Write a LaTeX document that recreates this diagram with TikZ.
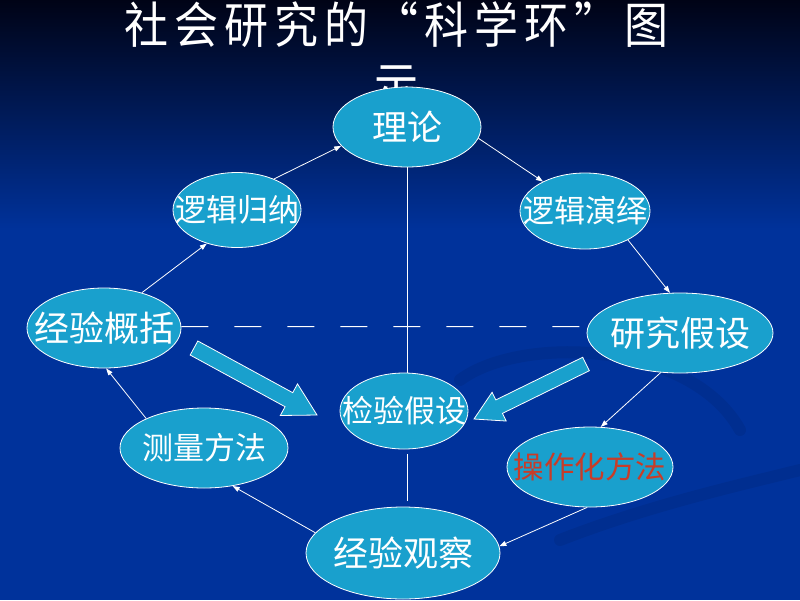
\documentclass[tikz,border=0pt]{standalone}
\usepackage{fontspec}
\setmainfont{Noto Sans CJK SC}
\usetikzlibrary{arrows.meta,calc,shapes.geometric}
\definecolor{bgblue}{RGB}{0,50,155}
\definecolor{bgtop}{RGB}{0,3,22}
\definecolor{ellfill}{RGB}{25,160,205}
\definecolor{redtxt}{RGB}{200,60,40}
\newcommand\tc[1]{\makebox[50pt]{\scalebox{1}[1.12]{#1}}}
\newcommand\ovtext[1]{\makebox[0pt]{#1}}
\newcommand\blkarrow[5]{%
  \coordinate (bab) at ($(#2)!#5!(#1)$);
  \draw[bigarrow] ($(#1)!#3!90:(#2)$) -- ($(bab)!#3!90:(#2)$) -- ($(bab)!#4!90:(#2)$)
    -- (#2) -- ($(bab)!#4!-90:(#2)$) -- ($(bab)!#3!-90:(#2)$) -- ($(#1)!#3!-90:(#2)$) -- cycle;}
\begin{document}
\begin{tikzpicture}[x=1pt,y=-1pt,
  oval/.style={ellipse, draw=white, line width=0.8pt, fill=ellfill, text=white, inner sep=0pt},
  conn/.style={draw=white, line width=0.8pt, -{Triangle[length=7pt,width=5pt]}},
  bigarrow/.style={draw=white, line width=0.8pt, fill=ellfill, line join=miter},
  vline/.style={draw=white, line width=1pt},
  swirl/.style={draw=black, line width=12pt, opacity=0.07, line cap=round},
  fbig/.style={font=\fontsize{35}{40}\selectfont},
  fmid/.style={font=\fontsize{31}{36}\selectfont}]
\useasboundingbox (0,0) rectangle (800,600);
\fill[bgblue] (0,0) rectangle (800,600);
\shade[top color=bgtop, bottom color=bgblue] (0,0) rectangle (800,230);
\draw[swirl] (460,380) .. controls (520,335) and (690,340) .. (740,430);
\draw[swirl] (560,540) .. controls (650,505) and (740,485) .. (800,470);

% title
\node[text=white, font=\fontsize{44}{60}\selectfont, align=center] (title) at (396,55)
  {\tc{社}\tc{会}\tc{研}\tc{究}\tc{的}\tc{“}\tc{科}\tc{学}\tc{环}\tc{”}\tc{图}\\\tc{示}};

% ellipses
\node[oval, fbig, minimum width=148pt, minimum height=80pt] (ll) at (407,127) {\ovtext{理论}};
\node[oval, fmid, minimum width=128pt, minimum height=75pt] (lggn) at (237,210) {\ovtext{逻辑归纳}};
\node[oval, fmid, minimum width=130pt, minimum height=76pt] (lgyy) at (585,211) {\ovtext{逻辑演绎}};
\node[oval, fbig, minimum width=154pt, minimum height=80pt] (jygk) at (104,328) {\ovtext{经验概括}};
\node[oval, fbig, minimum width=186pt, minimum height=80pt] (yjjs) at (680,333) {\ovtext{研究假设}};
\node[oval, fmid, minimum width=128pt, minimum height=76pt] (jyjs) at (404,411) {\ovtext{检验假设}};
\node[oval, fmid, minimum width=168pt, minimum height=80pt] (clff) at (204,448) {\ovtext{测量方法}};
\node[oval, font=\fontsize{30.5}{35}\selectfont, text=redtxt, minimum width=166pt, minimum height=80pt] (czh) at (590,467) {\ovtext{操作化方法}};
\node[oval, fbig, minimum width=194pt, minimum height=92pt] (jygc) at (403,553) {\ovtext{经验观察}};

% vertical and dashed lines
\draw[vline] (ll.south) -- (ll.south |- jyjs.north);
\draw[vline, shorten <=5pt, shorten >=6pt] (ll.south |- jyjs.south) -- (ll.south |- jygc.north);
\draw[vline, dash pattern=on 27pt off 26pt] (jygk.1) -- (yjjs.176);

% connectors
\draw[conn] (lggn.40) -- (ll.196);
\draw[conn] (ll.351) -- (lgyy.145);
\draw[conn] (lgyy.326) -- (yjjs.104);
\draw[conn] (yjjs.244) -- (czh.75);
\draw[conn] (czh.266) -- (jygc.4);
\draw[conn] (jygc.167) -- (clff.307);
\draw[conn] (clff.153) -- (jygk.273);
\draw[conn] (jygk.43) -- (lggn.228);

% block arrows
\coordinate (la-t) at (194,348);
\coordinate (la-h) at (317,415);
\coordinate (ra-t) at (586,364);
\coordinate (ra-h) at (474,419);
\blkarrow{la-t}{la-h}{8pt}{18pt}{32pt}
\blkarrow{ra-t}{ra-h}{7.5pt}{16pt}{28pt}
\end{tikzpicture}
\end{document}
